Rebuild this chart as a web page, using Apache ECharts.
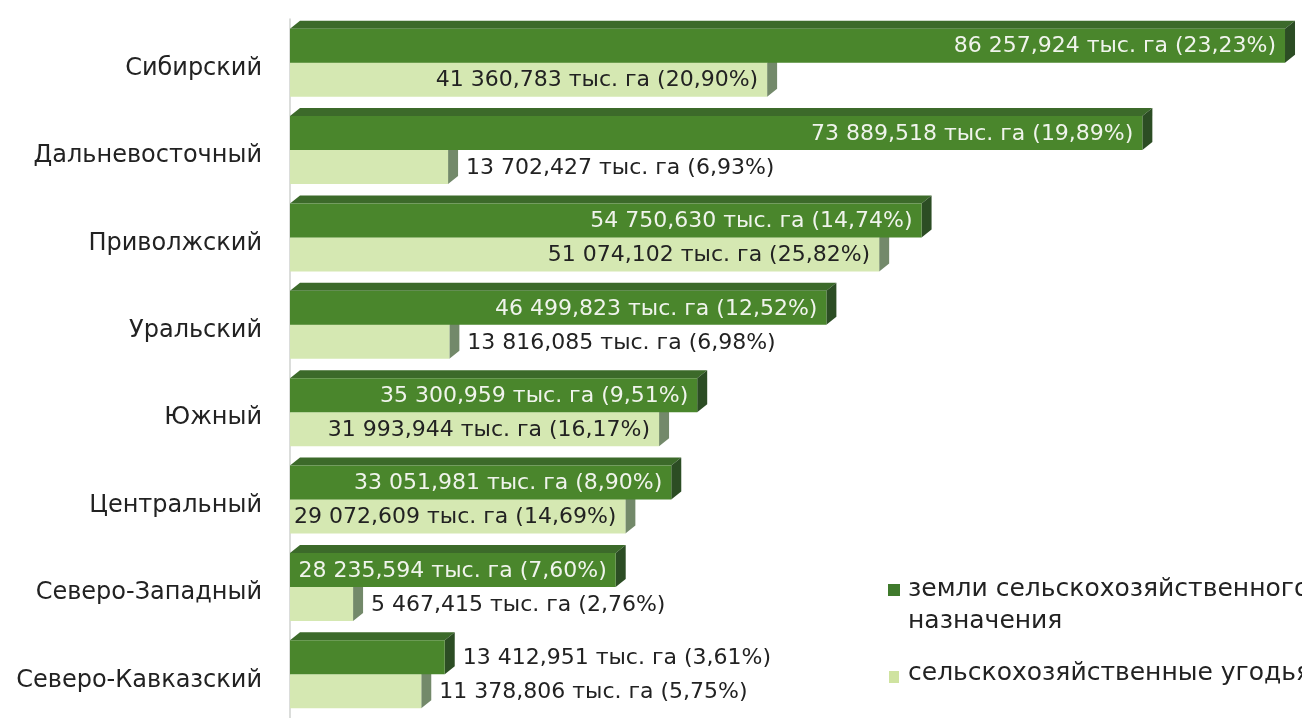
<!DOCTYPE html>
<html>
<head>
<meta charset="utf-8">
<style>
  html, body { margin: 0; padding: 0; background: #fff; }
  #chart { width: 1302px; height: 718px; }
</style>
<script src="https://cdn.jsdelivr.net/npm/echarts@6/dist/echarts.min.js"></script>
</head>
<body>
<div id="chart"></div>
<script>
const regions = ['Сибирский', 'Дальневосточный', 'Приволжский', 'Уральский', 'Южный', 'Центральный', 'Северо-Западный', 'Северо-Кавказский']
const farmLand = [86257.924, 73889.518, 54750.630, 46499.823, 35300.959, 33051.981, 28235.594, 13412.951]
const farmLandPct = [23.23, 19.89, 14.74, 12.52, 9.51, 8.90, 7.60, 3.61]
const agriLand = [41360.783, 13702.427, 51074.102, 13816.085, 31993.944, 29072.609, 5467.415, 11378.806]
const agriLandPct = [20.90, 6.93, 25.82, 6.98, 16.17, 14.69, 2.76, 5.75]
const seriesNames = ['земли сельскохозяйственного назначения', 'сельскохозяйственные угодья']

const FAMILY = '"DejaVu Sans", Verdana, sans-serif'
const FONT = '22px ' + FAMILY
const LEGEND_FONT = '25px ' + FAMILY
const measureCtx = document.createElement('canvas').getContext('2d')
measureCtx.font = FONT

function fmtNum(v) {
  const parts = v.toFixed(3).split('.')
  const int = parts[0].replace(/\B(?=(\d{3})+(?!\d))/g, ' ')
  return int + ',' + parts[1]
}
function labelText(v, pct) {
  return fmtNum(v) + ' тыс. га (' + pct.toFixed(2).replace('.', ',') + '%)'
}

// 3D-looking bar: front face, top face and right side face
function makeRenderer(pcts, colors, upper) {
  return function (params, api) {
    const v = api.value(0)
    const c = api.value(1)
    const start = api.coord([0, c])
    const end = api.coord([v, c])
    const h = 34
    const dx = 10
    const dy = 8
    const x0 = start[0]
    const x1 = end[0]
    const y0 = upper ? start[1] - h : start[1]
    const text = labelText(v, pcts[params.dataIndex])
    const tw = measureCtx.measureText(text).width
    const inside = tw + 4 < x1 - x0
    const children = [
      {
        type: 'polygon',
        shape: { points: [[x0, y0], [x0 + dx, y0 - dy], [x1 + dx, y0 - dy], [x1, y0]] },
        style: { fill: colors.top }
      },
      {
        type: 'polygon',
        shape: { points: [[x1, y0], [x1 + dx, y0 - dy], [x1 + dx, y0 + h - dy], [x1, y0 + h]] },
        style: { fill: colors.side }
      },
      {
        type: 'rect',
        shape: { x: x0, y: y0, width: x1 - x0, height: h },
        style: { fill: colors.front }
      },
      {
        type: 'text',
        x: inside ? Math.max(x1 - 9, x0 + tw + 4) : x1 + dx + 8,
        y: y0 + h / 2 + 1,
        style: {
          text: text,
          font: FONT,
          fill: inside && upper ? '#f0f4ec' : '#222',
          align: inside ? 'right' : 'left',
          verticalAlign: 'middle'
        }
      }
    ]
    return { type: 'group', children: children }
  }
}

const chart = echarts.init(document.getElementById('chart'))

const option = {
  animation: false,
  backgroundColor: '#fff',
  grid: { left: 290, right: 0, top: 19, height: 706 },
  xAxis: {
    type: 'value',
    min: 0,
    max: 87730,
    show: false
  },
  yAxis: {
    type: 'category',
    data: regions,
    inverse: true,
    axisLine: { show: true, lineStyle: { color: '#cfd2cf', width: 1.5 } },
    axisTick: { show: false },
    axisLabel: {
      margin: 28,
      formatter: (v) => '{r|' + v + '}',
      rich: {
        r: {
          color: '#222',
          fontSize: 24,
          fontFamily: FAMILY,
          padding: [12, 0, 0, 0]
        }
      }
    }
  },
  series: [
    {
      name: seriesNames[1],
      type: 'custom',
      renderItem: makeRenderer(agriLandPct, { front: '#d5e8b2', top: '#c2d99c', side: '#73896a' }, false),
      encode: { x: 0, y: 1 },
      data: agriLand.map((v, i) => [v, i]),
      z: 2
    },
    {
      name: seriesNames[0],
      type: 'custom',
      renderItem: makeRenderer(farmLandPct, { front: '#4a862c', top: '#3c6a2a', side: '#2c4d24' }, true),
      encode: { x: 0, y: 1 },
      data: farmLand.map((v, i) => [v, i]),
      z: 3
    }
  ],
  graphic: [
    { type: 'rect', left: 888, top: 584, shape: { width: 12, height: 12 }, style: { fill: '#3f7a2c' } },
    {
      type: 'text', left: 908, top: 573,
      style: { text: 'земли сельскохозяйственного\nназначения', font: LEGEND_FONT, fill: '#222', lineHeight: 32 }
    },
    { type: 'rect', left: 889, top: 671, shape: { width: 10, height: 12 }, style: { fill: '#cfe3a0' } },
    {
      type: 'text', left: 908, top: 661,
      style: { text: 'сельскохозяйственные угодья', font: LEGEND_FONT, fill: '#222' }
    }
  ]
}

chart.setOption(option)
window.addEventListener('resize', () => chart.resize())
</script>
</body>
</html>
